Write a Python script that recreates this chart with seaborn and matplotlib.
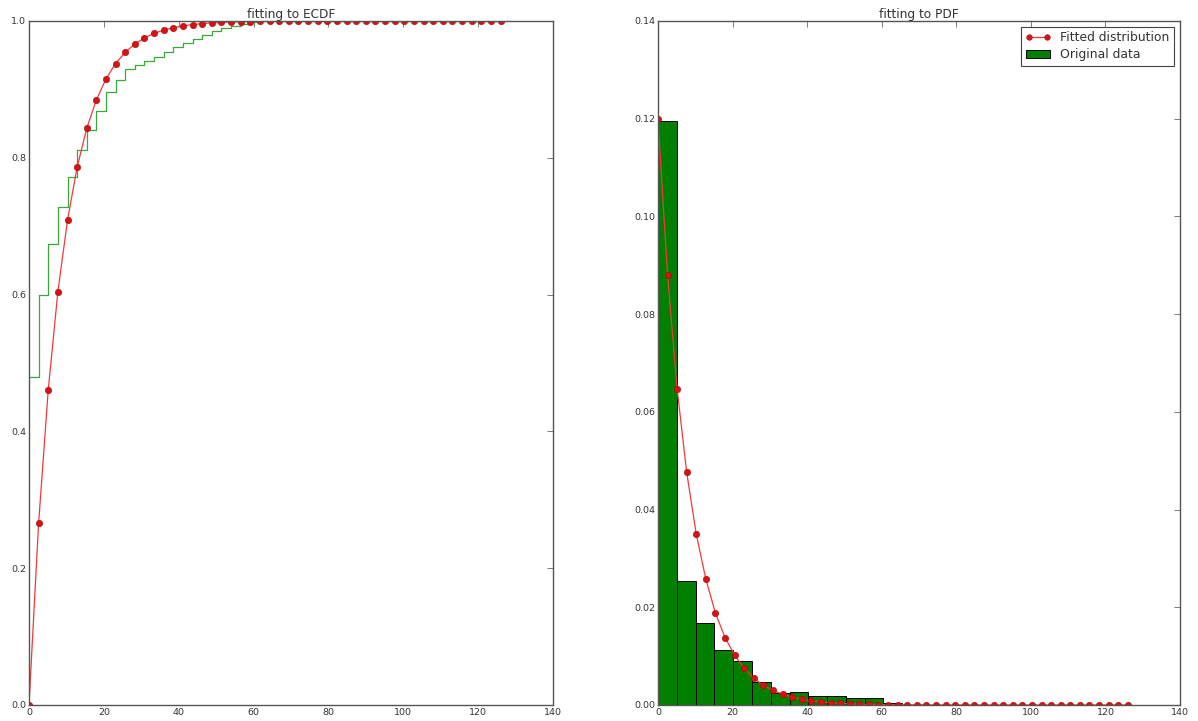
import matplotlib
matplotlib.use("Agg")
import matplotlib.pyplot as plt
import seaborn as sns
import pandas as pd
from matplotlib.lines import Line2D
from matplotlib.patches import Patch

# Evaluation grid shared by the fitted curves and the empirical CDF
x_grid = [0.0, 2.57, 5.14, 7.71, 10.29, 12.86, 15.43, 18.0, 20.57, 23.14,
          25.71, 28.29, 30.86, 33.43, 36.0, 38.57, 41.14, 43.71, 46.29, 48.86,
          51.43, 54.0, 56.57, 59.14, 61.71, 64.29, 66.86, 69.43, 72.0, 74.57,
          77.14, 79.71, 82.29, 84.86, 87.43, 90.0, 92.57, 95.14, 97.71, 100.29,
          102.86, 105.43, 108.0, 110.57, 113.14, 115.71, 118.29, 120.86, 123.43, 126.0]

# Empirical CDF of the sample
ecdf_values = [0.480, 0.600, 0.674, 0.728, 0.772, 0.811, 0.841, 0.869, 0.896, 0.914,
               0.930, 0.936, 0.942, 0.948, 0.955, 0.962, 0.968, 0.974, 0.980, 0.986,
               0.990, 0.993, 0.996, 0.999, 1.0, 1.0, 1.0, 1.0, 1.0, 1.0,
               1.0, 1.0, 1.0, 1.0, 1.0, 1.0, 1.0, 1.0, 1.0, 1.0,
               1.0, 1.0, 1.0, 1.0, 1.0, 1.0, 1.0, 1.0, 1.0, 1.0]

# Fitted distribution: CDF and PDF on the grid
fitted_cdf = [0.0, 0.2655, 0.4605, 0.6037, 0.7089, 0.7862, 0.8430, 0.8847, 0.9153, 0.9378,
              0.9543, 0.9664, 0.9753, 0.9819, 0.9867, 0.9902, 0.9928, 0.9947, 0.9961, 0.9972,
              0.9979, 0.9985, 0.9989, 0.9992, 0.9994, 0.9996, 0.9997, 0.9998, 0.9998, 0.9999,
              0.9999, 0.9999, 1.0, 1.0, 1.0, 1.0, 1.0, 1.0, 1.0, 1.0,
              1.0, 1.0, 1.0, 1.0, 1.0, 1.0, 1.0, 1.0, 1.0, 1.0]

fitted_pdf = [0.1200, 0.0881, 0.0647, 0.0476, 0.0349, 0.0257, 0.0188, 0.0138, 0.0102, 0.0075,
              0.0055, 0.0040, 0.0030, 0.0022, 0.0016, 0.0012, 0.00086, 0.00063, 0.00046, 0.00034,
              0.00025, 0.00018, 0.00014, 0.00010, 0.00007, 0.00005, 0.00004, 0.00003, 0.00002, 0.00002,
              0.00001, 0.00001, 0.0, 0.0, 0.0, 0.0, 0.0, 0.0, 0.0, 0.0,
              0.0, 0.0, 0.0, 0.0, 0.0, 0.0, 0.0, 0.0, 0.0, 0.0]

# Density histogram of the original data
bin_edges = [0.0, 5.04, 10.08, 15.12, 20.16, 25.2, 30.24, 35.28, 40.32, 45.36,
             50.4, 55.44, 60.48, 65.52, 70.56, 75.6, 80.64, 85.68, 90.72, 95.76,
             100.8, 105.84, 110.88, 115.92, 120.96, 126.0]
bin_density = [0.1195, 0.0254, 0.0168, 0.0113, 0.0091, 0.0048, 0.0024, 0.0026, 0.0018, 0.0018,
               0.0015, 0.0015, 0.0005, 0.0, 0.0, 0.0, 0.0, 0.0, 0.0, 0.0,
               0.0, 0.0, 0.0, 0.0, 0.0]

sns.set_style("white")
plt.rcParams["font.family"] = ["DejaVu Sans"]

RED_LINE = "#f03a3a"
RED_DOT = "#d41414"
GREEN = "#008000"
STEP_GREEN = "#3aa83a"
TEXT = "#333333"
MS = 4.6

fig = plt.figure(figsize=(11.98, 7.21), dpi=100)
ax1 = fig.add_axes([0.0242, 0.0222, 0.4374, 0.9487])
ax2 = fig.add_axes([0.5492, 0.0222, 0.4358, 0.9487])

grid_df = pd.DataFrame({"x": x_grid, "ecdf": ecdf_values,
                        "cdf": fitted_cdf, "pdf": fitted_pdf})

# Left: empirical CDF (steps) against the fitted CDF
sns.lineplot(data=grid_df, x="x", y="ecdf", ax=ax1, color=STEP_GREEN, lw=0.9,
             drawstyle="steps-post", estimator=None, sort=False)
sns.lineplot(data=grid_df, x="x", y="cdf", ax=ax1, color=RED_LINE, lw=0.9,
             marker="o", markersize=MS, markerfacecolor=RED_DOT,
             markeredgecolor="#b00000", markeredgewidth=0.4,
             estimator=None, sort=False)
ax1.set_xlim(0, 140)
ax1.set_ylim(0, 1.0)
ax1.set_xticks(range(0, 141, 20))
ax1.set_yticks([0.0, 0.2, 0.4, 0.6, 0.8, 1.0])
ax1.set_title("fitting to ECDF", fontsize=8.7, color=TEXT, pad=2)

# Right: density histogram against the fitted PDF
centers = [(a + b) / 2 for a, b in zip(bin_edges[:-1], bin_edges[1:])]
sns.histplot(x=centers, weights=bin_density, bins=bin_edges, ax=ax2,
             color=GREEN, alpha=1.0, edgecolor="black", linewidth=0.7)
sns.lineplot(data=grid_df, x="x", y="pdf", ax=ax2, color=RED_LINE, lw=0.9,
             marker="o", markersize=MS, markerfacecolor=RED_DOT,
             markeredgecolor="#b00000", markeredgewidth=0.4,
             estimator=None, sort=False)
ax2.set_xlim(0, 140)
ax2.set_ylim(0, 0.14)
ax2.set_xticks(range(0, 141, 20))
ax2.set_yticks([0.0, 0.02, 0.04, 0.06, 0.08, 0.10, 0.12, 0.14])
ax2.set_yticklabels(["0.00", "0.02", "0.04", "0.06", "0.08", "0.10", "0.12", "0.14"])
ax2.set_title("fitting to PDF", fontsize=8.7, color=TEXT, pad=2)

handles = [
    Line2D([0], [0], color=RED_LINE, lw=0.9, marker="o", markersize=4,
           markerfacecolor=RED_DOT, markeredgecolor="#b00000", markeredgewidth=0.4),
    Patch(facecolor=GREEN, edgecolor="black", linewidth=0.7),
]
leg = ax2.legend(handles, ["Fitted distribution", "Original data"], loc="upper right",
                 fontsize=8.9, numpoints=2, fancybox=False, frameon=True,
                 borderaxespad=0.45, handlelength=2.0, borderpad=0.4,
                 labelspacing=0.3, handletextpad=0.8)
leg.get_frame().set_edgecolor("#444444")
leg.get_frame().set_linewidth(0.8)
leg.get_frame().set_alpha(1.0)
for t in leg.get_texts():
    t.set_color(TEXT)

for ax in (ax1, ax2):
    ax.set_xlabel("")
    ax.set_ylabel("")
    for s in ax.spines.values():
        s.set_color("#555555")
        s.set_linewidth(1.0)
        s.set_visible(True)
    ax.tick_params(direction="in", top=True, right=True, length=4, width=0.6,
                   color="#666666", labelsize=6.8, labelcolor=TEXT, pad=2)

fig.savefig("out.png", dpi=100)
